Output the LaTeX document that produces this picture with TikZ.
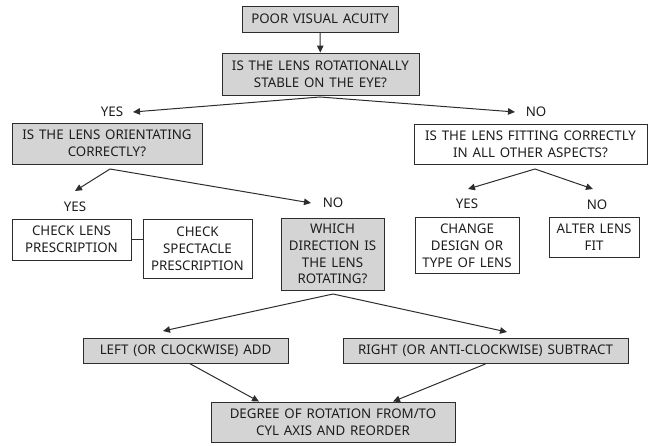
\documentclass[tikz,border=0pt]{standalone}
\usepackage{fontspec}
\setmainfont{Noto Sans}[WordSpace=1.4]
\usetikzlibrary{arrows.meta}
\definecolor{boxgray}{RGB}{212,212,212}
\definecolor{linegray}{RGB}{45,45,45}
\definecolor{txt}{RGB}{30,30,30}
\begin{document}
\begin{tikzpicture}[x=1pt,y=-1pt,
  font=\fontsize{13.3}{16.8}\selectfont,
  base/.style={draw=linegray,line width=0.9pt,inner sep=0pt,align=center,text=txt},
  gbox/.style={base,fill=boxgray},
  wbox/.style={base,fill=white},
  lbl/.style={inner sep=0pt,text=txt},
  arr/.style={draw=linegray,line width=1pt,-{Triangle[length=7pt,width=6.5pt]}},
  ln/.style={draw=linegray,line width=1pt}]
\useasboundingbox (0,0) rectangle (660,446);
% nodes
\node[gbox,minimum width=156,minimum height=26] (pva) at (320,19) {POOR VISUAL ACUITY};
\node[gbox,minimum width=197,minimum height=42] (stable) at (320.5,74) {IS THE LENS ROTATIONALLY\\STABLE ON THE EYE?};
\coordinate (a1) at (320,97);
\node[lbl] (yes1) at (112,112) {YES};
\node[lbl] (no1) at (536,112) {NO};
\coordinate (t1) at (133,112);
\coordinate (t2) at (515,112);
\node[gbox,minimum width=190,minimum height=41] (orient) at (107,143.5) {IS THE LENS ORIENTATING\\CORRECTLY?};
\node[wbox,minimum width=233,minimum height=40] (fit) at (530.5,144) {IS THE LENS FITTING CORRECTLY\\IN ALL OTHER ASPECTS?};
\coordinate (a2) at (110,169);
\coordinate (t3) at (75,191);
\coordinate (t4) at (311,203);
\node[lbl] (yes2) at (75,207) {YES};
\node[lbl] (no2) at (333,203) {NO};
\coordinate (a3) at (535,169);
\coordinate (t5) at (468,189);
\coordinate (t6) at (593,189);
\node[lbl] (yes3) at (467,204) {YES};
\node[lbl] (no3) at (597,205) {NO};
\node[wbox,minimum width=119,minimum height=41] (lens) at (71.5,239.5) {CHECK LENS\\PRESCRIPTION};
\node[wbox,minimum width=109,minimum height=59] (spec) at (197.5,248.5) {CHECK\\SPECTACLE\\PRESCRIPTION};
\node[gbox,minimum width=103,minimum height=72] (which) at (332.5,254) {WHICH\\DIRECTION IS\\THE LENS\\ROTATING?};
\node[wbox,minimum width=104,minimum height=56] (change) at (467,245.5) {CHANGE\\DESIGN OR\\TYPE OF LENS};
\node[wbox,minimum width=90,minimum height=40] (alter) at (594,237.5) {ALTER LENS\\FIT};
\coordinate (a4) at (333,294);
\coordinate (t7) at (163,331);
\coordinate (t8) at (507,332);
\node[gbox,minimum width=205,minimum height=25] (left) at (185.5,350.5) {LEFT (OR CLOCKWISE) ADD};
\node[gbox,minimum width=285,minimum height=25] (right) at (485.5,351) {RIGHT (OR ANTI-CLOCKWISE) SUBTRACT};
\node[gbox,minimum width=244,minimum height=40] (deg) at (333,422) {DEGREE OF ROTATION FROM/TO\\CYL AXIS AND REORDER};
% connectors
\draw[arr] (pva) -- (stable);
\draw[arr] (a1) -- (t1);
\draw[arr] (a1) -- (t2);
\draw[arr] (a2) -- (t3);
\draw[arr] (a2) -- (t4);
\draw[arr] (a3) -- (t5);
\draw[arr] (a3) -- (t6);
\draw[ln] (lens.east) -- (lens.east -| spec.west);
\draw[arr] (a4) -- (t7);
\draw[arr] (a4) -- (t8);
\draw[arr] ([xshift=4pt]left.south) -- ([xshift=-74pt]deg.north);
\draw[arr] ([xshift=0pt]right.south) -- ([xshift=60pt]deg.north);
\end{tikzpicture}
\end{document}
